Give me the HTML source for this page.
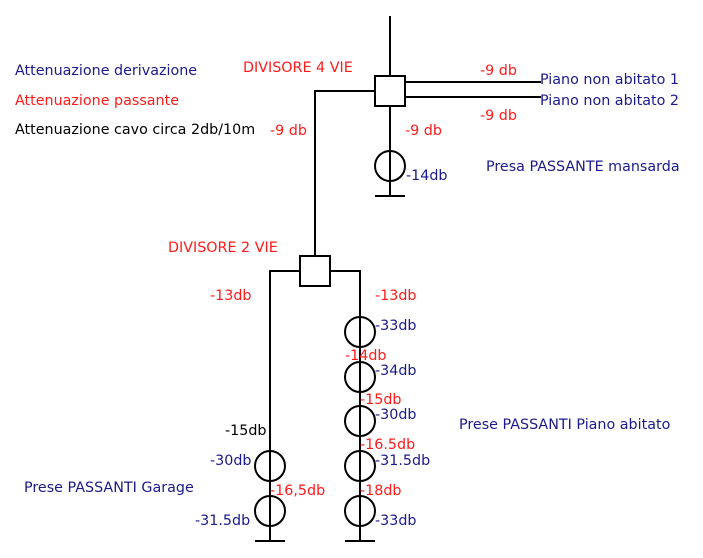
<!DOCTYPE html>
<html><head><meta charset="utf-8"><style>html,body{margin:0;padding:0;background:#fff}svg{display:block}</style></head>
<body>
<svg width="703" height="558" viewBox="0 0 703 558" xmlns="http://www.w3.org/2000/svg" font-family="'DejaVu Sans', sans-serif" font-size="14.3">
<g stroke="#000" stroke-width="2" fill="none">
<line x1="390" y1="16" x2="390" y2="76"/>
<rect x="375" y="76" width="30" height="30" fill="#fff"/>
<line x1="405" y1="82" x2="541" y2="82"/>
<line x1="405" y1="97" x2="541" y2="97"/>
<polyline points="375,91 315,91 315,256"/>
<line x1="390" y1="106" x2="390" y2="196"/>
<circle cx="390" cy="166" r="15"/>
<line x1="375" y1="196" x2="405" y2="196"/>
<rect x="300" y="256" width="30" height="30" fill="#fff"/>
<polyline points="300,271 270,271 270,541"/>
<polyline points="330,271 360,271 360,541"/>
<circle cx="360" cy="332" r="15"/>
<circle cx="360" cy="377" r="15"/>
<circle cx="360" cy="421" r="15"/>
<circle cx="360" cy="466" r="15"/>
<circle cx="360" cy="511" r="15"/>
<circle cx="270" cy="466" r="15"/>
<circle cx="270" cy="511" r="15"/>
<line x1="255" y1="541" x2="285" y2="541"/>
<line x1="345" y1="541" x2="375" y2="541"/>
</g>
<g fill="#1a1a8c">
<text x="15" y="75">Attenuazione derivazione</text>
<text x="540" y="84">Piano non abitato 1</text>
<text x="540" y="105">Piano non abitato 2</text>
<text x="406" y="180">-14db</text>
<text x="486" y="171">Presa PASSANTE mansarda</text>
<text x="375" y="330">-33db</text>
<text x="375" y="375">-34db</text>
<text x="375" y="419">-30db</text>
<text x="375" y="465">-31.5db</text>
<text x="375" y="525">-33db</text>
<text x="459" y="429">Prese PASSANTI Piano abitato</text>
<text x="210" y="465">-30db</text>
<text x="195" y="525">-31.5db</text>
<text x="24" y="492">Prese PASSANTI Garage</text>
</g>
<g fill="#ff1a1a">
<text x="15" y="105">Attenuazione passante</text>
<text x="243" y="72">DIVISORE 4 VIE</text>
<text x="270" y="135">-9 db</text>
<text x="480" y="75">-9 db</text>
<text x="480" y="120">-9 db</text>
<text x="405" y="135">-9 db</text>
<text x="168" y="252">DIVISORE 2 VIE</text>
<text x="210" y="300">-13db</text>
<text x="375" y="300">-13db</text>
<text x="345" y="360">-14db</text>
<text x="360" y="404">-15db</text>
<text x="360" y="449">-16.5db</text>
<text x="360" y="495">-18db</text>
<text x="270" y="495">-16,5db</text>
</g>
<text x="225" y="435" fill="#000">-15db</text>
<text x="15" y="134" fill="#000">Attenuazione cavo circa 2db/10m</text>
</svg>
</body></html>
